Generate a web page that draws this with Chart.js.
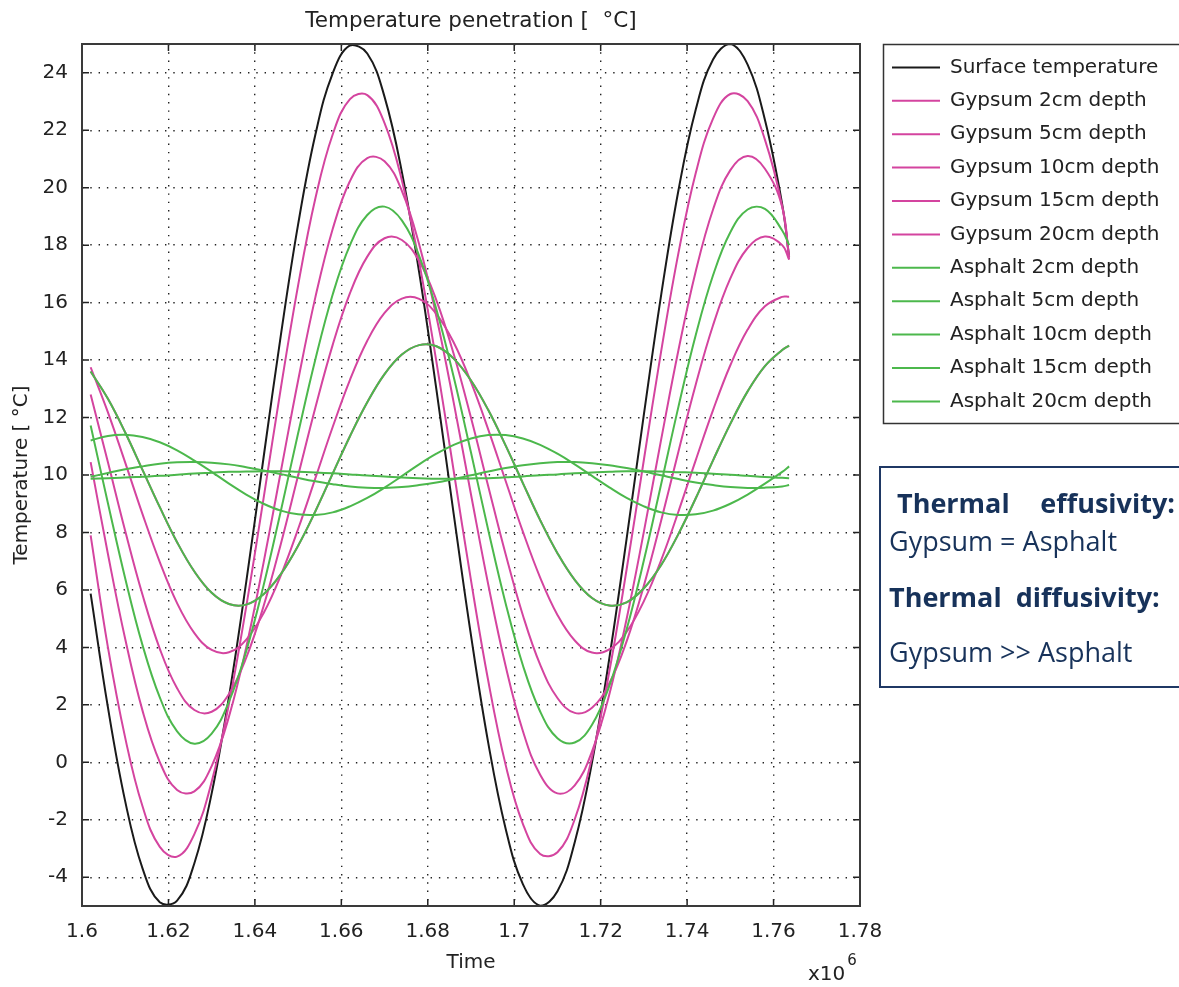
<!DOCTYPE html>
<html>
<head>
<meta charset="utf-8">
<title>Temperature penetration</title>
<script src="https://cdn.jsdelivr.net/npm/chart.js"></script>
<style>
  body { margin: 0; background: #fff; overflow: hidden; }
  #wrap { position: relative; width: 1179px; height: 987px; }
  #c { position: absolute; left: 0; top: 0; }
  #note { position: absolute; left: 879px; top: 466px; width: 330px; height: 222px; box-sizing: border-box;
          border: 2px solid #1f3864; color: #17325a; font-family: 'Open Sans', sans-serif; font-size: 27px; }
  #note div { position: absolute; left: 8px; line-height: 32px; white-space: nowrap; }
  #note .b { font-weight: bold; }
  #note .just { left: 16px; width: 278px; display: flex; justify-content: space-between; }
</style>
</head>
<body>
<div id="wrap">
  <canvas id="c" width="1179" height="987"></canvas>
  <div id="note">
    <div class="b just" style="top:19px"><span>Thermal</span><span>effusivity:</span></div>
    <div style="top:57px">Gypsum = Asphalt</div>
    <div class="b" style="top:113px">Thermal&nbsp; diffusivity:</div>
    <div style="top:168px">Gypsum &gt;&gt; Asphalt</div>
  </div>
</div>
<script>
// time axis (x10^6)
const time = [1.602, 1.606, 1.610, 1.614, 1.618, 1.622, 1.626, 1.630, 1.634, 1.638,
  1.642, 1.646, 1.650, 1.654, 1.658, 1.662, 1.666, 1.670, 1.674, 1.678,
  1.682, 1.686, 1.690, 1.694, 1.698, 1.702, 1.706, 1.710, 1.714, 1.718,
  1.722, 1.726, 1.730, 1.734, 1.738, 1.742, 1.746, 1.750, 1.754, 1.758,
  1.762, 1.7636];

const surface = [5.87, 1.91, -1.36, -3.69, -4.87, -4.81, -3.51, -1.08, 2.28, 6.28,
  10.60, 14.86, 18.72, 21.85, 23.98, 24.95, 24.67, 23.16, 20.55, 17.06,
  12.97, 8.64, 4.42, 0.67, -2.30, -4.24, -4.99, -4.49, -2.78, 0.00,
  3.62, 7.78, 12.11, 16.27, 19.91, 22.72, 24.46, 25.00, 24.28, 22.36,
  19.42, 17.6];
const gypsum2 = [7.9, 4.00, 0.85, -1.53, -2.94, -3.28, -2.50, -0.68, 2.04, 5.42,
  9.18, 13.02, 16.60, 19.63, 21.85, 23.08, 23.22, 22.25, 20.26, 17.41,
  13.94, 10.14, 6.33, 2.83, -0.08, -2.14, -3.19, -3.13, -1.98, 0.18,
  3.16, 6.71, 10.53, 14.31, 17.73, 20.51, 22.40, 23.26, 23.01, 21.67,
  19.35, 17.6];
const gypsum5 = [10.45, 7.25, 4.29, 1.80, 0.01, -0.96, -1.01, -0.13, 1.59, 4.01,
  6.94, 10.12, 13.29, 16.19, 18.56, 20.23, 21.03, 20.92, 19.89, 18.03,
  15.51, 12.52, 9.32, 6.18, 3.36, 1.09, -0.43, -1.08, -0.80, 0.38,
  2.36, 4.99, 8.03, 11.24, 14.35, 17.09, 19.24, 20.61, 21.10, 20.66,
  19.33, 17.5];
const gypsum10 = [12.80, 10.44, 8.05, 5.83, 3.95, 2.58, 1.82, 1.76, 2.38, 3.64,
  5.43, 7.60, 9.98, 12.35, 14.53, 16.33, 17.60, 18.24, 18.18, 17.45,
  16.08, 14.21, 11.99, 9.60, 7.25, 5.12, 3.40, 2.24, 1.72, 1.90,
  2.75, 4.21, 6.15, 8.42, 10.82, 13.15, 15.21, 16.84, 17.90, 18.30,
  18.00, 17.5];
const gypsum15 = [13.75, 12.18, 10.43, 8.64, 6.97, 5.54, 4.50, 3.91, 3.83, 4.27,
  5.19, 6.51, 8.12, 9.89, 11.67, 13.31, 14.67, 15.64, 16.14, 16.13,
  15.60, 14.61, 13.23, 11.58, 9.80, 8.03, 6.43, 5.13, 4.24, 3.82,
  3.93, 4.54, 5.61, 7.04, 8.73, 10.52, 12.26, 13.82, 15.06, 15.87,
  16.20, 16.2];
const gypsum20 = [13.60, 12.65, 11.48, 10.18, 8.88, 7.66, 6.64, 5.90, 5.51, 5.49,
  5.85, 6.55, 7.54, 8.74, 10.05, 11.35, 12.53, 13.51, 14.19, 14.52,
  14.48, 14.05, 13.29, 12.26, 11.03, 9.72, 8.43, 7.28, 6.35, 5.72,
  5.46, 5.57, 6.06, 6.87, 7.95, 9.19, 10.51, 11.78, 12.91, 13.79,
  14.35, 14.5];
const asphalt2 = [11.72, 9.02, 6.40, 4.08, 2.26, 1.08, 0.65, 1.00, 2.11, 3.87,
  6.15, 8.75, 11.45, 14.03, 16.28, 18.00, 19.05, 19.34, 18.86, 17.63,
  15.76, 13.41, 10.78, 8.08, 5.54, 3.38, 1.77, 0.84, 0.69, 1.31,
  2.66, 4.62, 7.03, 9.69, 12.38, 14.87, 16.95, 18.45, 19.24, 19.26,
  18.51, 18.0];
// 5cm asphalt lies on top of the 20cm gypsum curve
const asphalt5 = [13.60, 12.65, 11.48, 10.18, 8.88, 7.66, 6.64, 5.90, 5.51, 5.49,
  5.85, 6.55, 7.54, 8.74, 10.05, 11.35, 12.53, 13.51, 14.19, 14.52,
  14.48, 14.05, 13.29, 12.26, 11.03, 9.72, 8.43, 7.28, 6.35, 5.72,
  5.46, 5.57, 6.06, 6.87, 7.95, 9.19, 10.51, 11.78, 12.91, 13.79,
  14.35, 14.5];
const asphalt10 = [11.20, 11.36, 11.40, 11.32, 11.14, 10.86, 10.50, 10.11, 9.70, 9.32,
  9.00, 8.76, 8.63, 8.61, 8.70, 8.91, 9.20, 9.56, 9.96, 10.37,
  10.74, 11.05, 11.27, 11.39, 11.39, 11.27, 11.05, 10.74, 10.37, 9.97,
  9.57, 9.20, 8.91, 8.70, 8.61, 8.63, 8.76, 9.00, 9.32, 9.70,
  10.11, 10.3];
const asphalt15 = [9.94, 10.07, 10.20, 10.30, 10.39, 10.44, 10.45, 10.43, 10.37, 10.27,
  10.16, 10.03, 9.90, 9.78, 9.68, 9.60, 9.56, 9.55, 9.58, 9.65,
  9.74, 9.86, 9.99, 10.12, 10.24, 10.34, 10.41, 10.45, 10.45, 10.41,
  10.34, 10.24, 10.12, 9.99, 9.86, 9.74, 9.65, 9.58, 9.55, 9.56,
  9.60, 9.65];
const asphalt20 = [9.87, 9.89, 9.91, 9.94, 9.97, 10.01, 10.05, 10.08, 10.11, 10.12,
  10.13, 10.13, 10.11, 10.09, 10.06, 10.02, 9.98, 9.95, 9.91, 9.89,
  9.87, 9.87, 9.88, 9.89, 9.92, 9.95, 9.99, 10.02, 10.06, 10.09,
  10.11, 10.13, 10.13, 10.12, 10.10, 10.08, 10.04, 10.01, 9.97, 9.93,
  9.90, 9.89];

const xTicks = [1.6, 1.62, 1.64, 1.66, 1.68, 1.7, 1.72, 1.74, 1.76, 1.78];
const xTickLabels = ['1.6', '1.62', '1.64', '1.66', '1.68', '1.7', '1.72', '1.74', '1.76', '1.78'];
const yTicks = [-4, -2, 0, 2, 4, 6, 8, 10, 12, 14, 16, 18, 20, 22, 24];
const yTickLabels = ['-4', '-2', '0', '2', '4', '6', '8', '10', '12', '14', '16', '18', '20', '22', '24'];

const BLACK = '#1a1a1a', PINK = '#d4449f', GREEN = '#4cb84c';
const FONT = 'DejaVu Sans';

function pts(vals) { return vals.map((v, i) => ({ x: time[i], y: v })); }
function ds(label, vals, color, order) {
  return { label: label, data: pts(vals), borderColor: color, backgroundColor: color,
           borderWidth: 2, pointRadius: 0, tension: 0.4, order: order };
}

const frame = {
  id: 'frame',
  beforeLayout(chart) {
    const lg = chart.legend;
    if (lg && !lg._wide) {
      const fit = lg.fit;
      lg.fit = function () { fit.call(this); this.width = 300.4; };
      lg._wide = true;
    }
  },
  afterDatasetsDraw(chart) {
    const { ctx, chartArea: a, scales: { x, y } } = chart;
    ctx.save();
    ctx.strokeStyle = '#222';
    ctx.lineWidth = 1.5;
    ctx.beginPath();
    xTicks.forEach(v => {
      const p = x.getPixelForValue(v);
      ctx.moveTo(p, a.bottom); ctx.lineTo(p, a.bottom - 7);
      ctx.moveTo(p, a.top); ctx.lineTo(p, a.top + 7);
    });
    yTicks.forEach(v => {
      const p = y.getPixelForValue(v);
      ctx.moveTo(a.left, p); ctx.lineTo(a.left + 7, p);
      ctx.moveTo(a.right, p); ctx.lineTo(a.right - 7, p);
    });
    ctx.stroke();
    ctx.strokeStyle = '#3a3a3a';
    ctx.lineWidth = 2;
    ctx.strokeRect(a.left, a.top, a.right - a.left, a.bottom - a.top);
    ctx.restore();
  },
  afterDraw(chart) {
    const { ctx, chartArea: a } = chart;
    const lg = chart.legend;
    ctx.save();
    ctx.strokeStyle = '#333';
    ctx.lineWidth = 1.5;
    ctx.strokeRect(Math.round(lg.left + 4) + 0.5, lg.top + 0.5, 330, 379);
    ctx.fillStyle = '#222';
    ctx.font = '20px "' + FONT + '"';
    ctx.textBaseline = 'alphabetic';
    ctx.fillText('x10', a.right - 52, 980);
    const w = ctx.measureText('x10').width;
    ctx.font = '15px "' + FONT + '"';
    ctx.fillText('6', a.right - 52 + w + 2, 965);
    ctx.restore();
  }
};

Chart.defaults.font.family = FONT;
Chart.defaults.font.size = 20;
Chart.defaults.color = '#222';

new Chart(document.getElementById('c'), {
  type: 'line',
  data: {
    datasets: [
      ds('Surface temperature', surface, BLACK, 3),
      ds('Gypsum 2cm depth', gypsum2, PINK, 2),
      ds('Gypsum 5cm depth', gypsum5, PINK, 2),
      ds('Gypsum 10cm depth', gypsum10, PINK, 2),
      ds('Gypsum 15cm depth', gypsum15, PINK, 2),
      ds('Gypsum 20cm depth', gypsum20, PINK, 2),
      ds('Asphalt 2cm depth', asphalt2, GREEN, 1),
      ds('Asphalt 5cm depth', asphalt5, GREEN, 1),
      ds('Asphalt 10cm depth', asphalt10, GREEN, 1),
      ds('Asphalt 15cm depth', asphalt15, GREEN, 1),
      ds('Asphalt 20cm depth', asphalt20, GREEN, 1)
    ]
  },
  options: {
    responsive: false,
    animation: false,
    events: [],
    layout: { padding: 0 },
    plugins: {
      tooltip: { enabled: false },
      title: {
        display: true, fullSize: false,
        text: 'Temperature penetration [  °C]',
        font: { size: 21.5, weight: 'normal' },
        color: '#222',
        padding: { top: 9, bottom: 9.2 }
      },
      legend: {
        position: 'right', align: 'start', fullSize: false,
        labels: {
          usePointStyle: true, pointStyle: 'line', pointStyleWidth: 48,
          padding: 13.4, color: '#222', font: { size: 20 },
          sort: (a, b) => a.datasetIndex - b.datasetIndex
        }
      }
    },
    scales: {
      x: {
        type: 'linear', min: 1.6, max: 1.78,
        afterBuildTicks: s => { s.ticks = xTicks.map(v => ({ value: v })); },
        afterFit: s => { s.height = 81; },
        ticks: { autoSkip: false, maxRotation: 0, padding: 14, callback: (v, i) => xTickLabels[i] },
        grid: { color: '#222', lineWidth: 1.4, drawTicks: false },
        border: { display: false, dash: [1.4, 6.9] },
        title: { display: true, text: 'Time', padding: { top: 0, bottom: 12 } }
      },
      y: {
        type: 'linear', min: -5, max: 25,
        afterBuildTicks: s => { s.ticks = yTicks.map(v => ({ value: v })); },
        afterFit: s => { s.width = 82; },
        ticks: { padding: 14, callback: (v, i) => yTickLabels[i] },
        grid: { color: '#222', lineWidth: 1.4, drawTicks: false },
        border: { display: false, dash: [1.4, 6.9] },
        title: { display: true, text: 'Temperature [ °C]', padding: { top: 10, bottom: 0 } }
      },
      gap: {
        type: 'linear', position: 'right', display: true,
        afterFit: s => { s.width = 18.6; },
        ticks: { display: false },
        grid: { display: false, drawTicks: false },
        border: { display: false }
      }
    }
  },
  plugins: [frame]
});
</script>
</body>
</html>
